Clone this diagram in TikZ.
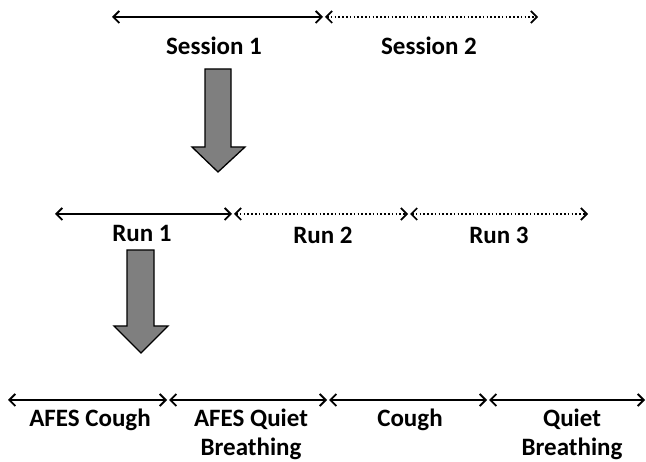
\documentclass[tikz,border=0pt]{standalone}
\usepackage{fontspec}
\setmainfont{Carlito}
\usetikzlibrary{arrows.meta}
\definecolor{arrowgray}{HTML}{7F7F7F}
\begin{document}
\begin{tikzpicture}[x=1pt,y=-1pt,
  lbl/.style={font=\bfseries\fontsize{25}{29}\selectfont, anchor=base, inner sep=0pt, align=center},
  span/.style={line width=1.8pt, {Straight Barb[length=6pt,width=12pt]}-{Straight Barb[length=6pt,width=12pt]}},
  dspan/.style={line width=1.5pt, dash pattern=on 1.5pt off 2.3pt, {Straight Barb[length=6pt,width=12pt,line width=1.7pt]}-{Straight Barb[length=6pt,width=12pt,line width=1.7pt]}},
  bigarrow/.style={fill=arrowgray, draw=black, line width=1.3pt, line join=miter}]
\useasboundingbox (0,0) rectangle (646,462);
% top row
\coordinate (s0) at (112,17);
\coordinate (s1a) at (323,17);
\coordinate (s1b) at (325,17);
\coordinate (s2) at (538,17);
\draw[span] (s0) -- (s1a);
\draw[dspan] (s1b) -- (s2);
\node[lbl] (sess1) at (214,55) {Session 1};
\node[lbl] (sess2) at (429,55) {Session 2};
% big arrow 1
\draw[bigarrow] (205,69) -- (231,69) -- (231,147) -- (245,147) -- (218,172) -- (192,147) -- (205,147) -- cycle;
% run row
\coordinate (r0) at (55,214);
\coordinate (r1a) at (232,214);
\coordinate (r1b) at (234,214);
\coordinate (r2a) at (408,214);
\coordinate (r2b) at (410,214);
\coordinate (r3) at (588,214);
\draw[span] (r0) -- (r1a);
\draw[dspan] (r1b) -- (r2a);
\draw[dspan] (r2b) -- (r3);
\node[lbl] (run1) at (142,242) {Run 1};
\node[lbl] (run2) at (323,244) {Run 2};
\node[lbl] (run3) at (499,244) {Run 3};
% big arrow 2
\draw[bigarrow] (127,250) -- (154,250) -- (154,326) -- (168,326) -- (141,353) -- (114,326) -- (127,326) -- cycle;
% bottom row
\coordinate (b0) at (8,400);
\coordinate (b1a) at (167,400);
\coordinate (b1b) at (169,400);
\coordinate (b2a) at (327,400);
\coordinate (b2b) at (329,400);
\coordinate (b3a) at (487,400);
\coordinate (b3b) at (489,400);
\coordinate (b4) at (645,400);
\draw[span] (b0) -- (b1a);
\draw[span] (b1b) -- (b2a);
\draw[span] (b2b) -- (b3a);
\draw[span] (b3b) -- (b4);
\node[lbl] (afc) at (90,427) {AFES Cough};
\node[lbl] (afq) at (251,456) {AFES Quiet\\Breathing};
\node[lbl] (cgh) at (410,427) {Cough};
\node[lbl] (qb) at (572,456) {Quiet\\Breathing};
\end{tikzpicture}
\end{document}
